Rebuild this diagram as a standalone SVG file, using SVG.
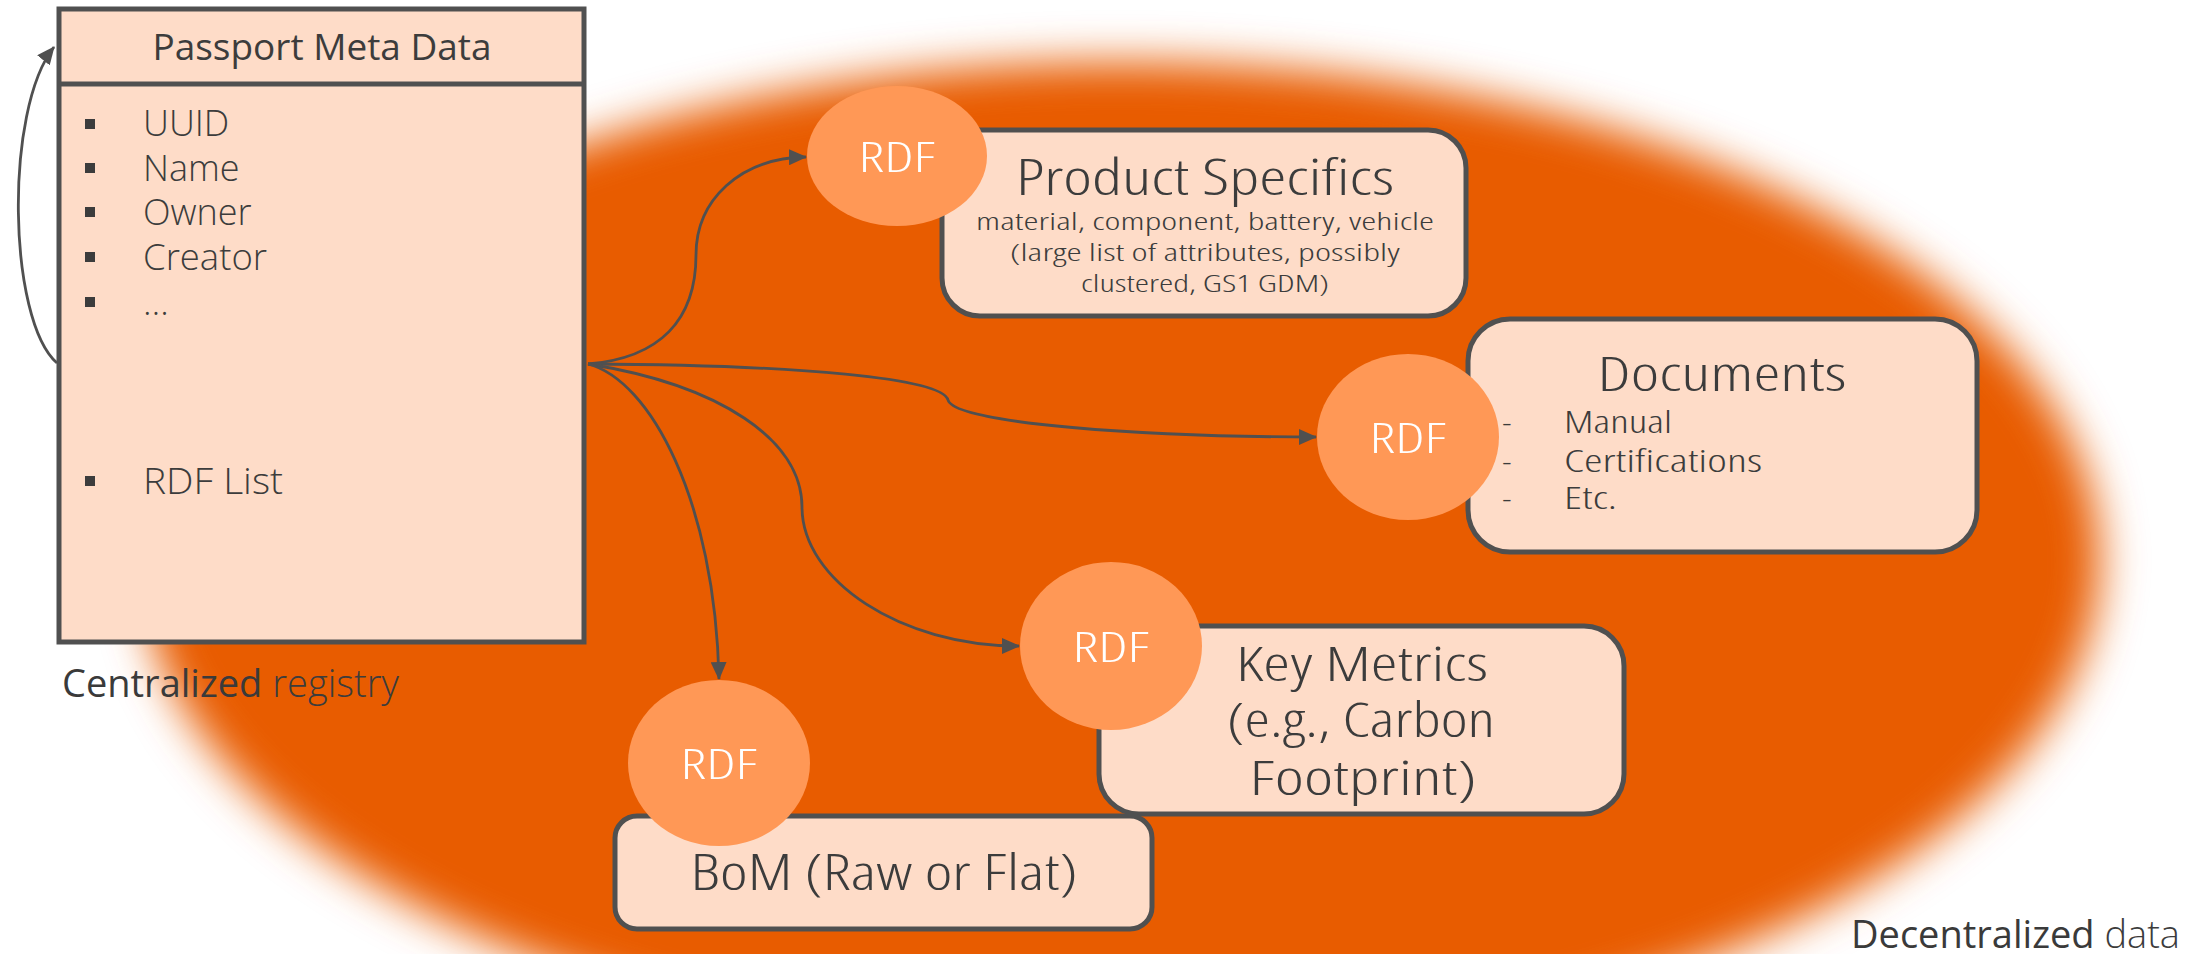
<svg xmlns="http://www.w3.org/2000/svg" width="2197" height="954" viewBox="0 0 2197 954">
<style>
.box{fill:#FEDCC8;stroke:#505050;stroke-width:5}
.rdf{fill:#FF9856}
.rdft{font-family:"Open Sans","Liberation Sans",sans-serif;font-weight:300;font-stretch:condensed;font-size:42px;fill:#FFFFFF;text-anchor:middle}
.t{font-family:"Open Sans","Liberation Sans",sans-serif;font-weight:300;fill:#3C3C3C}
.c{font-stretch:condensed}
.mid{text-anchor:middle}
.conn{fill:none;stroke:#505050;stroke-width:2.8}
</style>
<defs>
<filter id="soft" x="-10%" y="-15%" width="120%" height="130%">
<feGaussianBlur stdDeviation="22"/>
</filter>
<marker id="ah" markerUnits="userSpaceOnUse" markerWidth="20" markerHeight="16" refX="17" refY="8" orient="auto">
<path d="M0,0 L18,8 L0,16 Z" fill="#505050"/>
</marker>
</defs>
<rect x="0" y="0" width="2197" height="954" fill="#FFFFFF"/>
<g id="decentralized-area">
<ellipse cx="1120" cy="560" rx="980" ry="498" fill="#E85B00" filter="url(#soft)"/>
</g>
<g id="connectors">
<path class="conn" d="M57,363 C8,320 4,110 54,47" marker-end="url(#ah)"/>
<path class="conn" d="M588,364 C660,358 696,320 696,255 C696,200 740,158 806,157" marker-end="url(#ah)"/>
<path class="conn" d="M588,364 C800,365 942,378 948,400 C955,424 1150,437 1316,437" marker-end="url(#ah)"/>
<path class="conn" d="M588,364 C720,385 802,440 802,507 C802,580 900,646 1019,646" marker-end="url(#ah)"/>
<path class="conn" d="M588,364 C650,380 715,500 719,679" marker-end="url(#ah)"/>
</g>
<g id="passport-meta-data">
<rect class="box" x="59" y="9" width="525" height="633"/>
<line x1="59" y1="84" x2="584" y2="84" stroke="#505050" stroke-width="5"/>
<text class="t mid" x="322" y="60" font-size="36" style="font-weight:400" textLength="339" lengthAdjust="spacingAndGlyphs">Passport Meta Data</text>
<g fill="#3C3C3C">
<rect x="85" y="119" width="10" height="10"/>
<rect x="85" y="163" width="10" height="10"/>
<rect x="85" y="207" width="10" height="10"/>
<rect x="85" y="252" width="10" height="10"/>
<rect x="85" y="297" width="10" height="10"/>
<rect x="85" y="476" width="10" height="10"/>
</g>
<text class="t" x="143" y="136" font-size="36">UUID</text>
<text class="t" x="143" y="181" font-size="36">Name</text>
<text class="t" x="143" y="225" font-size="36">Owner</text>
<text class="t" x="143" y="270" font-size="36" textLength="124" lengthAdjust="spacingAndGlyphs">Creator</text>
<text class="t" x="143" y="315" font-size="36">…</text>
<text class="t" x="143" y="494" font-size="36" textLength="140" lengthAdjust="spacingAndGlyphs">RDF List</text>
</g>
<g id="centralized-label">
<text class="t" x="62" y="697" font-size="38"><tspan style="font-weight:500" fill="#3A3A3A">Centralized</tspan> <tspan>registry</tspan></text>
</g>
<g id="product-specifics">
<rect class="box" x="942" y="130" width="524" height="186" rx="38" ry="38"/>
<ellipse class="rdf" cx="897" cy="156" rx="90" ry="70"/>
<text class="rdft" x="897" y="172" textLength="77" lengthAdjust="spacingAndGlyphs">RDF</text>
<text class="t c mid" x="1205" y="195" font-size="49" textLength="378" lengthAdjust="spacingAndGlyphs">Product Specifics</text>
<text class="t c mid" x="1205" y="230" font-size="24" textLength="458" lengthAdjust="spacingAndGlyphs">material, component, battery, vehicle</text>
<text class="t c mid" x="1205" y="261" font-size="24" textLength="390" lengthAdjust="spacingAndGlyphs">(large list of attributes, possibly</text>
<text class="t c mid" x="1205" y="292" font-size="24" textLength="248" lengthAdjust="spacingAndGlyphs">clustered, GS1 GDM)</text>
</g>
<g id="documents">
<rect class="box" x="1468" y="319" width="509" height="233" rx="42" ry="42"/>
<ellipse class="rdf" cx="1408" cy="437" rx="91" ry="83"/>
<text class="rdft" x="1408" y="453" textLength="77" lengthAdjust="spacingAndGlyphs">RDF</text>
<text class="t c mid" x="1722" y="391" font-size="48" textLength="249" lengthAdjust="spacingAndGlyphs">Documents</text>
<text class="t" x="1502" y="433" font-size="30">-</text>
<text class="t" x="1502" y="472" font-size="30">-</text>
<text class="t" x="1502" y="509" font-size="30">-</text>
<text class="t c" x="1564" y="433" font-size="32" textLength="108" lengthAdjust="spacingAndGlyphs">Manual</text>
<text class="t c" x="1564" y="472" font-size="32" textLength="198" lengthAdjust="spacingAndGlyphs">Certifications</text>
<text class="t c" x="1564" y="509" font-size="32" textLength="53" lengthAdjust="spacingAndGlyphs">Etc.</text>
</g>
<g id="key-metrics">
<rect class="box" x="1099" y="626" width="525" height="188" rx="40" ry="40"/>
<ellipse class="rdf" cx="1111" cy="646" rx="91" ry="84"/>
<text class="rdft" x="1111" y="662" textLength="77" lengthAdjust="spacingAndGlyphs">RDF</text>
<text class="t c mid" x="1362" y="681" font-size="48" textLength="252" lengthAdjust="spacingAndGlyphs">Key Metrics</text>
<text class="t c mid" x="1361" y="737" font-size="48" textLength="268" lengthAdjust="spacingAndGlyphs">(e.g., Carbon</text>
<text class="t c mid" x="1363" y="795" font-size="48" textLength="227" lengthAdjust="spacingAndGlyphs">Footprint)</text>
</g>
<g id="bom">
<rect class="box" x="615" y="816" width="537" height="113" rx="22" ry="22"/>
<ellipse class="rdf" cx="719" cy="763" rx="91" ry="83"/>
<text class="rdft" x="719" y="779" textLength="77" lengthAdjust="spacingAndGlyphs">RDF</text>
<text class="t c mid" x="884" y="890" font-size="49" textLength="387" lengthAdjust="spacingAndGlyphs">BoM (Raw or Flat)</text>
</g>
<g id="decentralized-label">
<text class="t" x="1851" y="948" font-size="38"><tspan style="font-weight:500" fill="#3A3A3A">Decentralized</tspan> <tspan>data</tspan></text>
</g>
</svg>
